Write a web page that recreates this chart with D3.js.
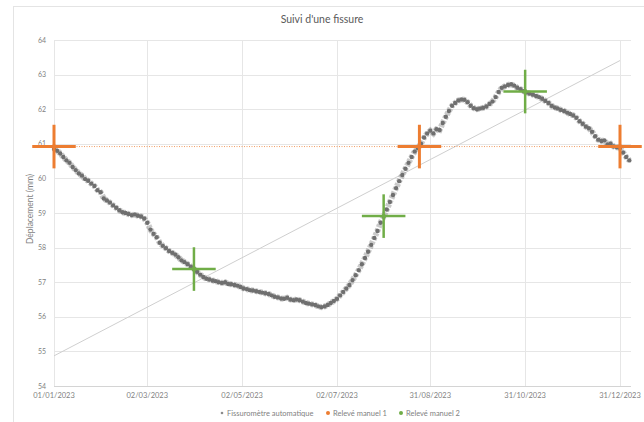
<!DOCTYPE html>
<html>
<head>
<meta charset="utf-8">
<script src="https://cdn.jsdelivr.net/npm/d3@7"></script>
<style>
  body { margin: 0; background: #fff; }
  svg { display: block; font-family: Lato, "Open Sans", sans-serif; }
</style>
</head>
<body>
<svg id="chart"></svg>
<script>
// ---- data ----
const title = "Suivi d'une fissure";
const yLabel = "Déplacement  (mm)";
const xTickLabels = ["01/01/2023", "02/03/2023", "02/05/2023", "02/07/2023", "31/08/2023", "31/10/2023", "31/12/2023"];
const yTicks = [54, 55, 56, 57, 58, 59, 60, 61, 62, 63, 64];
const seriesNames = ["Fissuromètre automatique", "Relevé manuel 1", "Relevé manuel 2"];

// automatic gauge, one reading every 2 days from 01/01/2023
const autoStart = "01/01/2023";
const autoStepDays = 2;
const autoValues = [
  60.85, 60.80, 60.72, 60.62, 60.52, 60.45, 60.33, 60.24, 60.14, 60.08,
  59.98, 59.93, 59.85, 59.78, 59.66, 59.60, 59.42, 59.36, 59.30, 59.22,
  59.15, 59.08, 59.02, 59.00, 58.97, 58.94, 58.96, 58.92, 58.90, 58.84,
  58.72, 58.52, 58.40, 58.30, 58.14, 58.05, 57.98, 57.90, 57.85, 57.80,
  57.72, 57.63, 57.58, 57.52, 57.45, 57.38, 57.30, 57.22, 57.15, 57.10,
  57.08, 57.05, 57.03, 57.00, 56.98, 57.00, 56.95, 56.94, 56.92, 56.90,
  56.86, 56.82, 56.80, 56.77, 56.76, 56.74, 56.72, 56.70, 56.68, 56.66,
  56.62, 56.58, 56.56, 56.53, 56.52, 56.55, 56.50, 56.48, 56.50, 56.48,
  56.44, 56.40, 56.38, 56.36, 56.34, 56.30, 56.28, 56.30, 56.34, 56.40,
  56.46, 56.52, 56.62, 56.72, 56.82, 56.92, 57.06, 57.20, 57.35, 57.52,
  57.70, 57.88, 58.08, 58.28, 58.48, 58.72, 58.90, 59.10, 59.32, 59.52,
  59.72, 59.92, 60.10, 60.28, 60.45, 60.62, 60.78, 60.88, 61.00, 61.18,
  61.30, 61.38, 61.30, 61.42, 61.40, 61.60, 61.78, 61.95, 62.10, 62.18,
  62.25, 62.28, 62.27, 62.20, 62.10, 62.03, 62.00, 62.02, 62.04, 62.08,
  62.15, 62.22, 62.35, 62.50, 62.62, 62.66, 62.70, 62.72, 62.68, 62.62,
  62.58, 62.52, 62.48, 62.45, 62.42, 62.38, 62.35, 62.30, 62.24, 62.18,
  62.10, 62.05, 62.02, 61.98, 61.95, 61.90, 61.86, 61.82, 61.75, 61.65,
  61.58, 61.50, 61.45, 61.35, 61.22, 61.12, 61.08, 61.10, 60.98, 61.00,
  60.92, 60.90, 60.88, 60.75, 60.62, 60.52
];

// manual readings
const manual1Dates = ["01/01/2023", "24/08/2023", "31/12/2023"];
const manual1Values = [60.92, 60.92, 60.92];
const manual2Dates = ["01/04/2023", "01/08/2023", "31/10/2023"];
const manual2Values = [57.38, 58.91, 62.51];
// error bars of the manual readings
const errDays = 14;
const errMm = 0.63;

const colors = { auto: "#6f6f6f", m1: "#ed7d31", m2: "#70ad47" };

// ---- layout ----
const W = 644, H = 422;
const mLeft = 54, mRight = 620, plotRight = 631, mTop = 40, mBottom = 386;

const parse = d3.timeParse("%d/%m/%Y");
const t0 = parse(autoStart);
const autoData = autoValues.map((v, i) => ({ date: d3.timeDay.offset(t0, i * autoStepDays), v: v }));
const m1Data = manual1Dates.map((d, i) => ({ date: parse(d), v: manual1Values[i] }));
const m2Data = manual2Dates.map((d, i) => ({ date: parse(d), v: manual2Values[i] }));
const tickDates = xTickLabels.map(parse);

const x = d3.scaleTime()
    .domain([tickDates[0], tickDates[tickDates.length - 1]])
    .range([mLeft, mRight]);
const y = d3.scaleLinear().domain([54, 64]).range([mBottom, mTop]);

const svg = d3.select("#chart").attr("width", W).attr("height", H);

// chart border
svg.append("rect")
    .attr("x", 13.5).attr("y", 6.5)
    .attr("width", W).attr("height", H)
    .attr("fill", "#fff").attr("stroke", "#e4e4e4");

svg.append("text")
    .attr("x", 322).attr("y", 23)
    .attr("text-anchor", "middle")
    .attr("font-size", 10.5)
    .attr("fill", "#595959")
    .text(title);

// grid
const grid = svg.append("g");
grid.selectAll("line.h")
    .data(yTicks)
    .enter().append("line")
    .attr("class", "h")
    .attr("x1", mLeft).attr("x2", plotRight)
    .attr("y1", d => Math.round(y(d)) + 0.5)
    .attr("y2", d => Math.round(y(d)) + 0.5)
    .attr("stroke", d => d === 54 ? "#d4d4d4" : "#e6e6e6");
grid.selectAll("line.v")
    .data(tickDates)
    .enter().append("line")
    .attr("class", "v")
    .attr("x1", d => Math.round(x(d)) + 0.5)
    .attr("x2", d => Math.round(x(d)) + 0.5)
    .attr("y1", mTop).attr("y2", mBottom)
    .attr("stroke", "#e6e6e6");

// y tick labels
svg.append("g").selectAll("text")
    .data(yTicks)
    .enter().append("text")
    .attr("x", mLeft - 8)
    .attr("y", d => y(d) + 2.5)
    .attr("text-anchor", "end")
    .attr("font-size", 7)
    .attr("fill", "#7f7f7f")
    .text(d => d);

// x tick labels
svg.append("g").selectAll("text")
    .data(tickDates)
    .enter().append("text")
    .attr("x", d => x(d))
    .attr("y", mBottom + 12)
    .attr("text-anchor", "middle")
    .attr("font-size", 7.5)
    .attr("fill", "#7f7f7f")
    .text((d, i) => xTickLabels[i]);

svg.append("text")
    .attr("transform", "translate(33," + ((mTop + mBottom) / 2 - 4) + ") rotate(-90)")
    .attr("text-anchor", "middle")
    .attr("font-size", 8.5)
    .attr("fill", "#7f7f7f")
    .text(yLabel);

// linear trendlines of the manual series
function trend(data) {
    let xs = data.map(d => (d.date - t0) / 864e5), ys = data.map(d => d.v);
    let mx = d3.mean(xs), my = d3.mean(ys);
    let sxy = d3.sum(xs, (xx, i) => (xx - mx) * (ys[i] - my));
    let sxx = d3.sum(xs, xx => (xx - mx) * (xx - mx));
    let slope = sxx ? sxy / sxx : 0;
    return d => my + slope * ((d - t0) / 864e5 - mx);
}
const tr1 = trend(m1Data), tr2 = trend(m2Data);
const xEnds = [tickDates[0], tickDates[tickDates.length - 1]];

svg.append("line")
    .attr("x1", x(xEnds[0])).attr("x2", x(xEnds[1]))
    .attr("y1", y(tr2(xEnds[0]))).attr("y2", y(tr2(xEnds[1])))
    .attr("stroke", "#cfcfcf").attr("stroke-width", 1);

// automatic series
const line = d3.line().x(d => x(d.date)).y(d => y(d.v)).curve(d3.curveLinear);
svg.append("path")
    .datum(autoData)
    .attr("d", line)
    .attr("fill", "none")
    .attr("stroke", "#7a7a7a")
    .attr("stroke-width", 6)
    .attr("stroke-opacity", 0.4)
    .attr("stroke-dasharray", "3,1.5");
svg.append("g").selectAll("circle")
    .data(autoData)
    .enter().append("circle")
    .attr("cx", d => x(d.date))
    .attr("cy", d => y(d.v))
    .attr("r", 2.2)
    .attr("fill", colors.auto);

svg.append("line")
    .attr("x1", x(xEnds[0])).attr("x2", x(xEnds[1]))
    .attr("y1", y(tr1(xEnds[0]))).attr("y2", y(tr1(xEnds[1])))
    .attr("stroke", colors.m1).attr("stroke-width", 1)
    .attr("stroke-opacity", 0.75)
    .attr("stroke-dasharray", "1,1.5");

// manual readings with error crosses
function crosses(data, color, w) {
    let g = svg.append("g");
    g.selectAll("line.ex")
        .data(data).enter().append("line")
        .attr("class", "ex")
        .attr("x1", d => x(d3.timeDay.offset(d.date, -errDays)))
        .attr("x2", d => x(d3.timeDay.offset(d.date, errDays)))
        .attr("y1", d => y(d.v)).attr("y2", d => y(d.v))
        .attr("stroke", color).attr("stroke-width", w);
    g.selectAll("line.ey")
        .data(data).enter().append("line")
        .attr("class", "ey")
        .attr("x1", d => x(d.date)).attr("x2", d => x(d.date))
        .attr("y1", d => y(d.v - errMm)).attr("y2", d => y(d.v + errMm))
        .attr("stroke", color).attr("stroke-width", w);
    g.selectAll("circle")
        .data(data).enter().append("circle")
        .attr("cx", d => x(d.date)).attr("cy", d => y(d.v))
        .attr("r", 2.2).attr("fill", color);
}
crosses(m1Data, colors.m1, 3);
crosses(m2Data, colors.m2, 2.5);

// legend
const legendItems = [
    { name: seriesNames[0], color: "#8c8c8c", x: 222 },
    { name: seriesNames[1], color: colors.m1, x: 328 },
    { name: seriesNames[2], color: colors.m2, x: 401 }
];
let lg = svg.append("g").selectAll("g")
    .data(legendItems).enter().append("g")
    .attr("transform", d => "translate(" + d.x + ",413)");
lg.append("circle").attr("r", (d, i) => i === 0 ? 1.3 : 2).attr("fill", d => d.color);
lg.append("text")
    .attr("x", 5).attr("y", 2.5)
    .attr("font-size", 7.5)
    .attr("fill", "#7f7f7f")
    .text(d => d.name);
</script>
</body>
</html>
